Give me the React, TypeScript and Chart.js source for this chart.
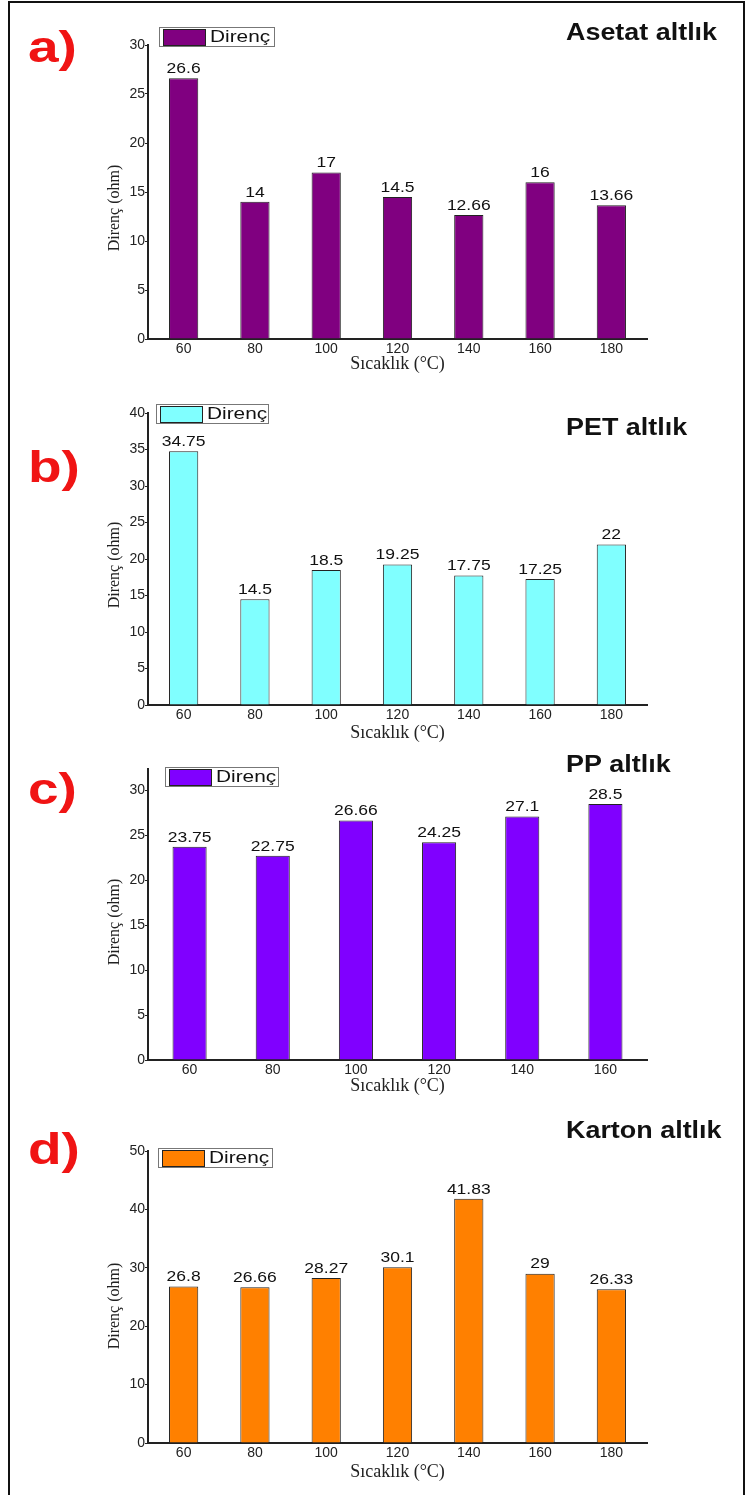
import React, { useEffect, useRef } from 'react';
import { Chart, registerables } from 'chart.js';

Chart.register(...registerables);

// ---------- data ----------
const categoriesA = ['60', '80', '100', '120', '140', '160', '180'];
const valuesA = [26.6, 14, 17, 14.5, 12.66, 16, 13.66];

const categoriesB = ['60', '80', '100', '120', '140', '160', '180'];
const valuesB = [34.75, 14.5, 18.5, 19.25, 17.75, 17.25, 22];

const categoriesC = ['60', '80', '100', '120', '140', '160'];
const valuesC = [23.75, 22.75, 26.66, 24.25, 27.1, 28.5];

const categoriesD = ['60', '80', '100', '120', '140', '160', '180'];
const valuesD = [26.8, 26.66, 28.27, 30.1, 41.83, 29, 26.33];

const yMaxes = [30, 40, 32.4, 50];
const ySteps = [5, 5, 5, 10];

const seriesLabel = 'Direnç';
const panelTitles = ['Asetat altlık', 'PET altlık', 'PP altlık', 'Karton altlık'];
const panelLetters = ['a)', 'b)', 'c)', 'd)'];
const xAxisTitle = 'Sıcaklık (°C)';
const yAxisTitle = 'Direnç (ohm)';

// ---------- layout / style ----------
const W = 745;
const AXIS_LEFT = 148;
const AXIS_RIGHT = 647;
const SANS = '"Liberation Sans", Arial, sans-serif';
const SERIF = '"Liberation Serif", "Times New Roman", serif';

type PanelCfg = {
  cats: string[];
  vals: number[];
  color: string;
  top: number;
  height: number;
  caTop: number;
  caBottom: number;
  xTitleY: number;
  yTitleY: number;
  letterY: number;
  titleY: number;
  legend: { x: number; y: number; w: number; h: number };
  idx: number;
};

const panels: PanelCfg[] = [
  { cats: categoriesA, vals: valuesA, color: '#800080', top: 0, height: 380, caTop: 45, caBottom: 339, xTitleY: 364, yTitleY: 208, letterY: 62, titleY: 40, legend: { x: 159, y: 27, w: 115, h: 19 }, idx: 0 },
  { cats: categoriesB, vals: valuesB, color: '#80FFFF', top: 372, height: 380, caTop: 413, caBottom: 705, xTitleY: 733, yTitleY: 565, letterY: 482, titleY: 435, legend: { x: 156, y: 404, w: 112, h: 19 }, idx: 1 },
  { cats: categoriesC, vals: valuesC, color: '#8000FF', top: 745, height: 365, caTop: 769, caBottom: 1060, xTitleY: 1086, yTitleY: 922, letterY: 804, titleY: 772, legend: { x: 165, y: 767, w: 113, h: 19 }, idx: 2 },
  { cats: categoriesD, vals: valuesD, color: '#FF8000', top: 1100, height: 395, caTop: 1151, caBottom: 1443, xTitleY: 1472, yTitleY: 1306, letterY: 1164, titleY: 1138, legend: { x: 158, y: 1148, w: 114, h: 19 }, idx: 3 },
];

function stretchText(
  ctx: CanvasRenderingContext2D,
  text: string,
  x: number,
  y: number,
  font: string,
  color: string,
  sx: number,
  align: CanvasTextAlign,
  baseline: CanvasTextBaseline,
  rot = 0
) {
  ctx.save();
  ctx.translate(x, y);
  if (rot) ctx.rotate(rot);
  ctx.scale(sx, 1);
  ctx.font = font;
  ctx.fillStyle = color;
  ctx.textAlign = align;
  ctx.textBaseline = baseline;
  ctx.fillText(text, 0, 0);
  ctx.restore();
}

const overlayPlugin = {
  id: 'overlay',
  afterDatasetsDraw(chart: any, _args: any, opts: any) {
    const p: PanelCfg = opts.panel;
    const ctx: CanvasRenderingContext2D = chart.ctx;
    const off = p.top;
    const meta = chart.getDatasetMeta(0);
    const data = chart.data.datasets[0].data as number[];
    // value labels
    meta.data.forEach((el: any, i: number) => {
      stretchText(ctx, String(data[i]), el.x, el.y - 2, `14px ${SANS}`, '#111', 1.25, 'center', 'bottom');
    });
    // y axis title
    stretchText(ctx, yAxisTitle, 115, p.yTitleY - off, `16px ${SERIF}`, '#222', 1, 'center', 'middle', -Math.PI / 2);
    // legend
    const L = p.legend;
    ctx.save();
    ctx.fillStyle = '#fff';
    ctx.fillRect(L.x, L.y - off, L.w, L.h);
    ctx.strokeStyle = '#777';
    ctx.lineWidth = 1;
    ctx.strokeRect(L.x + 0.5, L.y - off + 0.5, L.w, L.h);
    ctx.fillStyle = p.color;
    ctx.fillRect(L.x + 4, L.y - off + 2, 42, L.h - 3);
    ctx.strokeStyle = '#222';
    ctx.strokeRect(L.x + 4.5, L.y - off + 2.5, 42, L.h - 3);
    ctx.restore();
    stretchText(ctx, seriesLabel, L.x + 51, L.y - off + L.h / 2 + 1, `16px ${SANS}`, '#111', 1.3, 'left', 'middle');
    // panel letter
    stretchText(ctx, panelLetters[p.idx], 28, p.letterY - off, `bold 44px ${SANS}`, '#F01414', 1.25, 'left', 'alphabetic');
    // panel title
    stretchText(ctx, panelTitles[p.idx], 566, p.titleY - off, `bold 23px ${SANS}`, '#111', 1.17, 'left', 'alphabetic');
  },
};

function Panel({ cfg }: { cfg: PanelCfg }) {
  const ref = useRef<HTMLCanvasElement | null>(null);
  useEffect(() => {
    if (!ref.current) return;
    const xTitleSize = 18;
    const xTitleOffset = (xTitleSize * 1.2) / 2;
    const padLeft = 100;
    const yWidth = AXIS_LEFT - padLeft;
    const padTop = cfg.caTop - cfg.top;
    const xScaleBottom = cfg.xTitleY - cfg.top + xTitleOffset;
    const padBottom = cfg.height - xScaleBottom;
    const xHeight = xScaleBottom - (cfg.caBottom - cfg.top);

    const chart = new Chart(ref.current, {
      type: 'bar',
      data: {
        labels: cfg.cats,
        datasets: [
          {
            label: seriesLabel,
            data: cfg.vals,
            backgroundColor: cfg.color,
            borderColor: '#222',
            borderWidth: 1,
            barPercentage: 0.41,
            categoryPercentage: 1,
          },
        ],
      },
      options: {
        responsive: false,
        animation: false,
        devicePixelRatio: 1,
        layout: { padding: { top: padTop, left: padLeft, right: W - AXIS_RIGHT, bottom: padBottom } },
        plugins: {
          legend: { display: false },
          tooltip: { enabled: false },
          overlay: { panel: cfg },
        } as any,
        scales: {
          x: {
            type: 'category',
            offset: true,
            grid: { display: false, drawTicks: false },
            border: { display: true, color: '#222', width: 2 },
            ticks: { color: '#222', padding: 2, font: { family: SANS, size: 14 }, maxRotation: 0, autoSkip: false },
            title: {
              display: true,
              text: xAxisTitle,
              color: '#222',
              padding: 0,
              font: { family: SERIF, size: xTitleSize, lineHeight: 1.2 },
            },
            afterFit: (s: any) => {
              s.height = xHeight;
            },
          },
          y: {
            type: 'linear',
            min: 0,
            max: yMaxes[cfg.idx],
            grid: { display: true, drawOnChartArea: false, drawTicks: true, tickLength: 3, color: '#222' },
            border: { display: true, color: '#222', width: 2 },
            ticks: {
              stepSize: ySteps[cfg.idx],
              includeBounds: false,
              color: '#222',
              padding: 0,
              font: { family: SANS, size: 14 },
            },
            title: { display: false },
            afterFit: (s: any) => {
              s.width = yWidth;
            },
          },
        },
      },
      plugins: [overlayPlugin as any],
    });
    return () => chart.destroy();
  }, [cfg]);
  return (
    <canvas
      ref={ref}
      width={W}
      height={cfg.height}
      style={{ position: 'absolute', left: 0, top: cfg.top, width: W, height: cfg.height }}
    />
  );
}

export default function App() {
  return (
    <div
      style={{
        position: 'fixed',
        left: 0,
        top: 0,
        width: W,
        height: 1495,
        overflow: 'hidden',
        background: '#fff',
      }}
    >
      <div
        style={{
          position: 'absolute',
          left: 8,
          top: 1,
          width: 733,
          height: 1510,
          borderLeft: '2px solid #111',
          borderTop: '2px solid #111',
          borderRight: '2px solid #111',
        }}
      />
      {panels.map((p) => (
        <Panel key={p.idx} cfg={p} />
      ))}
    </div>
  );
}
